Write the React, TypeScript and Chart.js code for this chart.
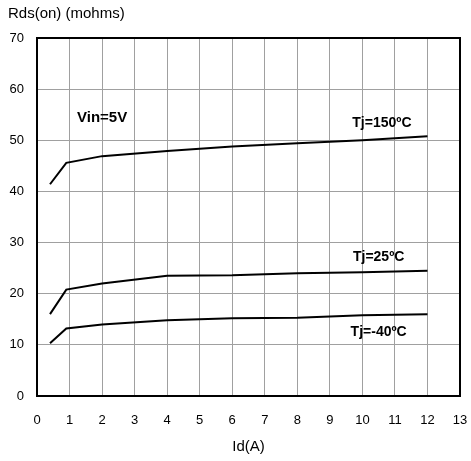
import React, { useEffect, useRef } from "react";
import { Chart, registerables } from "chart.js";

Chart.register(...registerables);

const xValues = [0.4, 0.9, 2, 4, 6, 8, 10, 12];
const tj150 = [41.4, 45.6, 46.9, 47.9, 48.8, 49.4, 50.0, 50.8];
const tj25 = [16.0, 20.8, 22.0, 23.5, 23.6, 24.0, 24.2, 24.5];
const tjm40 = [10.3, 13.2, 14.0, 14.8, 15.2, 15.3, 15.8, 16.0];

const seriesNames = ["Tj=150ºC", "Tj=25ºC", "Tj=-40ºC"];
const annotations = [
  { text: "Vin=5V", x: 1.23, y: 54.4, align: "left" as CanvasTextAlign, size: 15 },
  { text: "Tj=150ºC", x: 10.6, y: 53.3, align: "center" as CanvasTextAlign, size: 14 },
  { text: "Tj=25ºC", x: 10.5, y: 27.1, align: "center" as CanvasTextAlign, size: 14 },
  { text: "Tj=-40ºC", x: 10.5, y: 12.4, align: "center" as CanvasTextAlign, size: 14 },
];
const yTitle = "Rds(on) (mohms)";
const xTitle = "Id(A)";

const FONT = "'Liberation Sans', Arial, sans-serif";

export default function App() {
  const ref = useRef<HTMLCanvasElement | null>(null);
  useEffect(() => {
    document.body.style.margin = "0";
    const ctx = ref.current!;
    const toPts = (ys: number[]) => xValues.map((x, i) => ({ x, y: ys[i] }));
    const textPlugin = {
      id: "texts",
      afterDraw(chart: any) {
        const c = chart.ctx;
        const { left, top, right, bottom } = chart.chartArea;
        const xs = chart.scales.x;
        const ys = chart.scales.y;
        c.save();
        c.strokeStyle = "#000";
        c.lineWidth = 2;
        c.strokeRect(left, top, right - left, bottom - top);
        c.fillStyle = "#000";
        c.textBaseline = "middle";
        for (const a of annotations) {
          c.font = `bold ${a.size}px ${FONT}`;
          c.textAlign = a.align;
          c.fillText(a.text, xs.getPixelForValue(a.x), ys.getPixelForValue(a.y));
        }
        c.font = `15px ${FONT}`;
        c.textAlign = "left";
        c.fillText(yTitle, 8, 14);
        c.restore();
      },
    };
    const chart = new Chart(ctx, {
      type: "line",
      data: {
        datasets: [
          { label: seriesNames[0], data: toPts(tj150) },
          { label: seriesNames[1], data: toPts(tj25) },
          { label: seriesNames[2], data: toPts(tjm40) },
        ].map((d) => ({
          ...d,
          borderColor: "#000",
          borderWidth: 2,
          pointRadius: 0,
          tension: 0,
          fill: false,
        })),
      },
      options: {
        animation: false,
        responsive: false,
        maintainAspectRatio: false,
        layout: { padding: { top: 38, right: 0, left: 0, bottom: 0 } },
        plugins: { legend: { display: false }, tooltip: { enabled: false }, title: { display: false } },
        scales: {
          x: {
            type: "linear",
            min: 0,
            max: 13,
            ticks: { stepSize: 1, color: "#000", font: { family: FONT, size: 13 }, padding: 17, maxRotation: 0 },
            grid: { color: "#a0a0a0", lineWidth: 1, drawTicks: false },
            border: { color: "#000", width: 2 },
            title: { display: true, text: xTitle, color: "#000", font: { family: FONT, size: 15 }, padding: { top: 4, bottom: 5 } },
            afterFit: (s: any) => { s.height = 65; s.paddingRight = 11; },
          },
          y: {
            type: "linear",
            min: 0,
            max: 70,
            ticks: { stepSize: 10, color: "#000", font: { family: FONT, size: 13 }, padding: 13 },
            grid: { color: "#a0a0a0", lineWidth: 1, drawTicks: false },
            border: { color: "#000", width: 2 },
            afterFit: (s: any) => { s.width = 37; },
          },
        },
      },
      plugins: [textPlugin],
    });
    return () => chart.destroy();
  }, []);
  return (
    <div style={{ width: 471, height: 461, background: "#fff" }}>
      <canvas ref={ref} width={471} height={461} style={{ display: "block" }} />
    </div>
  );
}
